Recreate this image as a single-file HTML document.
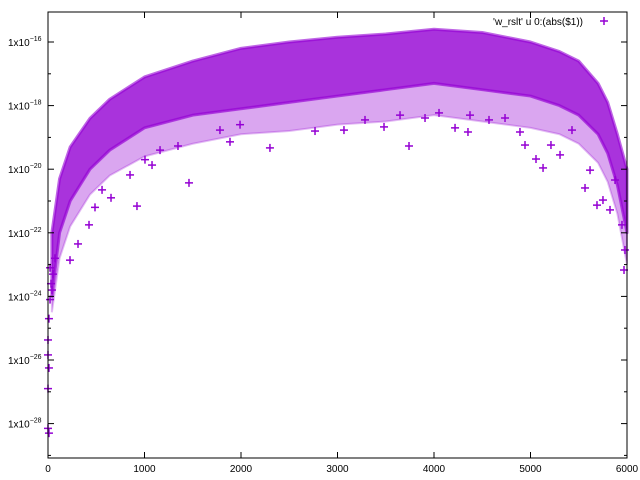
<!DOCTYPE html>
<html><head><meta charset="utf-8"><style>
body{margin:0;background:#fff}
svg{display:block;font-family:"Liberation Sans",sans-serif}
</style></head><body>
<svg id="chart" width="640" height="480" viewBox="0 0 640 480">
<rect x="0" y="0" width="640" height="480" fill="#fff"/>
<g id="band"></g>
<g id="pts"></g>
<g id="axes"></g>
<g>
<text x="583" y="25" font-size="10" text-anchor="end" fill="#000">'w_rslt' u 0:(abs($1))</text>
<g stroke="#9400d3" stroke-width="1.5"><line x1="600" y1="21" x2="608" y2="21"/><line x1="604" y1="17" x2="604" y2="25"/></g>
</g>
</svg>
<script>
// envelope of the dense cloud (log10 of |value|)
const bandX = [40,120,230,435,640,1000,1500,2000,2500,3000,3500,4000,4500,5000,5300,5500,5700,5800,5900,6000];
const bandTop = [-22.0,-20.3,-19.3,-18.4,-17.8,-17.1,-16.6,-16.2,-16.0,-15.85,-15.75,-15.6,-15.7,-16.0,-16.3,-16.6,-17.3,-17.9,-18.9,-20.0];
const bandBottom = [-24,-22,-21,-20,-19.4,-18.7,-18.3,-18.1,-17.9,-17.7,-17.5,-17.3,-17.5,-17.7,-18.0,-18.3,-18.9,-19.5,-20.5,-22];
const sparseBottom = [-24.5,-22.8,-21.8,-20.8,-20.2,-19.6,-19.2,-18.9,-18.8,-18.6,-18.5,-18.3,-18.5,-18.7,-18.9,-19.2,-19.8,-20.4,-21.4,-23];
// scattered points: index and log10 value
const ptX = [922,1461,1347,1886,2300,2767,3067,3482,3741,4052,4218,4352,4570,4891,5057,5130,5212,5306,5565,5751,5824,5689,1078,1161,653,560,487,425,311,228,850,1005,1990,1782,3285,3648,3907,4373,4736,4943,5430,5617,5876,5948,5979,5969,21,41,21,10,0,0,10,0,0,10,72,52,31];
const ptY = [-21.16,-20.43,-19.27,-19.14,-19.33,-18.8,-18.77,-18.67,-19.27,-18.23,-18.7,-18.83,-18.45,-18.83,-19.68,-19.96,-19.24,-19.55,-20.59,-20.97,-21.28,-21.13,-19.87,-19.4,-20.9,-20.65,-21.2,-21.75,-22.35,-22.86,-20.18,-19.7,-18.6,-18.77,-18.45,-18.3,-18.39,-18.3,-18.39,-19.24,-18.77,-20.03,-20.34,-21.75,-22.54,-23.17,-23.1,-23.8,-24.1,-24.7,-25.37,-25.84,-26.25,-26.9,-28.15,-28.3,-22.8,-23.3,-23.6];
const xTicks = [0,1000,2000,3000,4000,5000,6000];
const yTicks = [-16,-18,-20,-22,-24,-26,-28];

const L=48,R=627,T=12,B=458;
const xs = v => L + (v/6000)*(R-L);
const ys = e => 42 + (-16 - e)*31.8;
const NS="http://www.w3.org/2000/svg";
function mk(tag, attrs, parent){const el=document.createElementNS(NS,tag);for(const k in attrs)el.setAttribute(k,attrs[k]);parent.appendChild(el);return el;}
function area(top,bot){
  let d='';
  bandX.forEach((x,i)=>{d+=(i?'L':'M')+xs(x)+','+ys(top[i]);});
  for(let i=bandX.length-1;i>=0;i--) d+='L'+xs(bandX[i])+','+ys(bot[i]);
  return d+'Z';
}
const band=document.getElementById('band');
const sp=mk('path',{d:area(bandBottom,sparseBottom),fill:'#9400d3','fill-opacity':'0.35',stroke:'#9400d3','stroke-width':'2','stroke-opacity':'0.25'},band);


const bp=mk('path',{d:area(bandTop,bandBottom),fill:'#9400d3','fill-opacity':'0.8',stroke:'#9400d3','stroke-width':'3','stroke-linejoin':'round','stroke-opacity':'0.6'},band);



const pts=document.getElementById('pts');
ptX.forEach((x,i)=>{
  const cx=xs(x),cy=ys(ptY[i]);
  const g=mk('g',{stroke:'#9400d3','stroke-width':'1.5'},pts);
  
  
  mk('line',{x1:cx-4,y1:cy,x2:cx+4,y2:cy},g);
  mk('line',{x1:cx,y1:cy-4,x2:cx,y2:cy+4},g);
});

const ax=document.getElementById('axes');
const frame=mk('rect',{x:L,y:T,width:R-L,height:B-T,fill:'none',stroke:'#000','stroke-width':'1'},ax);


xTicks.forEach(v=>{
  const x=xs(v);
  mk('line',{x1:x,y1:B,x2:x,y2:B-6,stroke:'#000'},ax);
  mk('line',{x1:x,y1:T,x2:x,y2:T+6,stroke:'#000'},ax);
  const t=mk('text',{x:x,y:472,'font-size':'10','text-anchor':'middle',fill:'#000'},ax);
  t.textContent=v;
  
  
});
for(let e=-15;e>=-29;e--){
  const y=ys(e);
  if(y<T||y>B)continue;
  const len=(yTicks.indexOf(e)>=0)?6:3;
  mk('line',{x1:L,y1:y,x2:L+len,y2:y,stroke:'#000'},ax);
  mk('line',{x1:R,y1:y,x2:R-len,y2:y,stroke:'#000'},ax);
}
yTicks.forEach(e=>{
  const y=ys(e);
  const t=mk('text',{x:8,y:y+4,'font-size':'10',fill:'#000'},ax);
  
  
  t.appendChild(document.createTextNode('1x10'));
  const s=mk('tspan',{'font-size':'7',dy:'-5'},t);
  s.textContent=String(e).replace('-','\u2212');
});
</script>
</body></html>
